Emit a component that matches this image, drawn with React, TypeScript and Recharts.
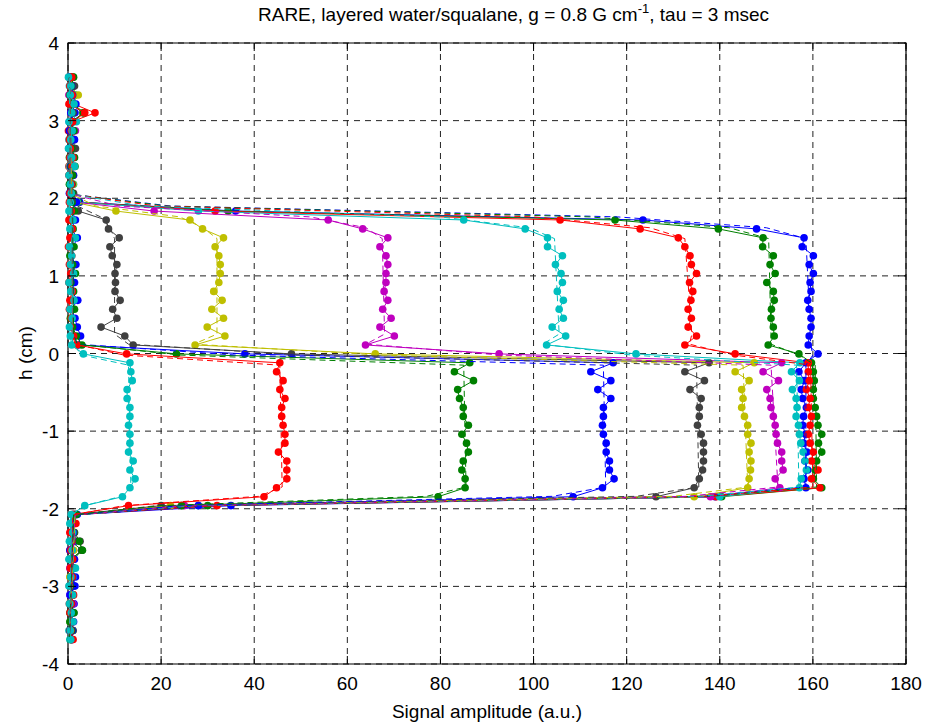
import { ScatterChart, Scatter, XAxis, YAxis, CartesianGrid, ReferenceArea } from 'recharts';

// sample positions along the tube (cm), shared by all measured profiles
const hGrid = [
  3.56, 3.445, 3.33, 3.215, 3.1, 2.985, 2.87, 2.755, 2.64, 2.525,
  2.41, 2.295, 2.18, 2.065, 1.95, 1.835, 1.72, 1.605, 1.49, 1.375,
  1.26, 1.145, 1.03, 0.915, 0.8, 0.685, 0.57, 0.455, 0.34, 0.225,
  0.11, -0.005, -0.12, -0.235, -0.35, -0.465, -0.58, -0.695, -0.81, -0.925,
  -1.04, -1.155, -1.27, -1.385, -1.5, -1.615, -1.73, -1.845, -1.96, -2.075,
  -2.19, -2.305, -2.42, -2.535, -2.65, -2.765, -2.88, -2.995, -3.11, -3.225,
  -3.34, -3.455, -3.57, -3.685,
];

// model (dashed) curves are given at these heights
const modelH = [3.55, 2.05, 1.9, 1.76, 1.62, 1.48, 0.25, 0.12, -0.02, -0.15, -1.72, -1.84, -1.96, -2.08, -3.65];

// measured amplitudes, one per hGrid entry
const blue1X = [
  0.4, 1.2, 0.6, 0.9, 1.5, 0.3, 1.1, 0.7, 0.2, 1.3, 0.8, 0.5, 1.0, 0.6,
  2.5, 36.0, 123.5, 147.9, 158.1, 157.7, 160.1, 159.2, 160.1, 159.4, 159.6, 158.9, 159.2, 159.6, 159.6, 159.2, 159.0, 161.1,
  158.5, 157.0, 158.2, 157.5, 157.8, 158.6, 158.0, 157.8, 158.4, 158.0, 158.7, 158.3, 158.9, 158.1, 158.5,
  139.0, 35.0,
  2.0, 1.2, 0.8, 1.5, 0.6, 1.1, 0.9, 1.6, 1.0, 0.4, 1.3, 0.7, 1.2, 0.9, 0.6,
];
const green1X = [
  1.0, 0.5, 1.4, 0.7, 3.2, 1.1, 0.4, 1.2, 0.9, 0.3, 1.5, 0.6, 0.8, 0.4,
  2.2, 34.4, 117.5, 139.7, 149.3, 149.2, 151.5, 150.8, 151.9, 150.1, 151.5, 151.7, 151.1, 151.0, 151.5, 151.7, 150.4, 157.0,
  159.7, 160.1, 160.3, 160.1, 160.1, 160.5, 160.8, 161.1, 161.9, 161.2, 161.9, 160.8, 160.5, 160.1, 161.9,
  140.4, 30.0,
  1.6, 1.0, 1.4, 0.7, 3.0, 1.2, 0.5, 0.9, 1.3, 0.6, 1.0, 0.4, 0.8, 1.1, 0.5,
];
const red1X = [
  0.2, 0.9, 0.3, 1.2, 5.8, 0.8, 0.1, 0.6, 1.0, 0.4, 0.2, 1.1, 0.5, 0.7,
  1.8, 31.6, 105.7, 122.9, 131.1, 132.5, 133.6, 133.9, 135.0, 133.5, 134.2, 133.8, 133.2, 133.9, 133.2, 135.0, 132.5, 143.3,
  159.0, 159.0, 159.2, 158.6, 159.4, 159.0, 159.7, 159.4, 159.0, 159.4, 160.1, 159.7, 161.1, 159.7, 161.5,
  139.2, 32.0,
  1.3, 1.7, 0.6, 1.0, 0.4, 0.9, 1.2, 0.5, 0.8, 1.1, 0.3, 0.9, 0.6, 1.0, 0.8,
];
const cyan1X = [
  0.7, 0.3, 1.6, 0.5, 0.9, 1.8, 0.4, 0.2, 1.4, 0.6, 0.3, 0.9, 1.2, 0.5,
  2.0, 28.0, 85.0, 98.2, 103.0, 103.0, 106.2, 104.7, 105.9, 106.2, 105.1, 106.4, 105.5, 106.4, 104.0, 106.9, 102.8, 122.0,
  157.2, 155.4, 157.1, 155.6, 156.4, 156.6, 156.4, 156.9, 157.1, 157.4, 157.9, 158.3, 158.6, 157.5, 157.1,
  140.0, 28.0,
  1.0, 0.5, 0.9, 0.3, 0.8, 0.2, 0.6, 1.1, 0.4, 0.7, 0.3, 0.9, 0.5, 0.2, 0.4,
];
const magenta1X = [
  0.5, 1.1, 0.2, 0.8, 0.6, 0.4, 1.6, 0.9, 0.3, 0.7, 1.2, 0.4, 0.6, 0.9,
  1.5, 18.5, 55.9, 63.3, 68.7, 67.0, 68.3, 68.7, 68.3, 68.3, 67.9, 68.7, 67.6, 69.4, 67.0, 70.1, 63.9, 92.6,
  153.3, 149.3, 152.6, 150.1, 150.8, 151.0, 151.5, 151.9, 152.1, 152.4, 153.3, 153.3, 153.6, 151.9, 152.9,
  138.0, 25.0,
  1.2, 0.8, 0.5, 1.1, 0.6, 0.9, 0.4, 1.0, 0.7, 0.5, 1.1, 0.6, 0.8, 0.4, 0.9,
];
const yellow1X = [
  0.9, 0.6, 2.2, 1.0, 0.7, 0.5, 0.8, 1.3, 0.6, 0.9, 0.4, 0.7, 1.1, 0.8,
  1.2, 10.3, 26.2, 28.9, 33.4, 31.6, 32.4, 32.7, 32.7, 32.4, 31.3, 33.1, 30.9, 33.4, 29.9, 33.7, 27.3, 66.0,
  147.4, 143.3, 146.3, 144.7, 145.0, 144.7, 145.3, 146.0, 146.0, 146.7, 146.3, 146.7, 146.6, 146.3, 146.0,
  134.5, 22.0,
  1.4, 0.9, 0.6, 0.8, 1.2, 0.5, 0.9, 0.4, 1.0, 0.7, 0.6, 0.8, 0.5, 0.9, 0.7,
];
const gray1X = [
  0.6, 1.4, 0.8, 0.4, 1.1, 0.9, 0.5, 1.0, 1.6, 0.8, 0.6, 0.3, 0.9, 1.2,
  0.8, 2.2, 8.2, 8.7, 11.0, 9.0, 9.5, 10.5, 10.1, 10.2, 10.1, 11.2, 9.6, 10.5, 7.1, 12.2, 14.0, 48.0,
  137.7, 132.5, 136.7, 133.6, 136.0, 135.6, 135.6, 135.2, 136.0, 136.5, 136.5, 136.5, 136.3, 135.6, 134.5,
  126.3, 20.0,
  1.1, 0.7, 1.3, 2.6, 2.9, 0.8, 1.0, 0.6, 1.2, 0.9, 0.5, 1.0, 0.7, 0.4, 0.8,
];
const blue2X = [
  0.3, 0.8, 1.0, 1.7, 0.6, 0.9, 0.3, 1.4, 0.7, 1.0, 0.5, 1.2, 0.4, 0.3,
  1.8, 0.9, 1.6, 0.7, 2.0, 1.1, 0.6, 1.7, 0.9, 1.4, 0.8, 2.1, 0.7, 1.5, 2.0, 2.7, 2.2, 38.0,
  117.1, 112.3, 116.6, 113.8, 116.6, 115.0, 115.0, 114.8, 115.0, 115.6, 115.6, 116.3, 116.3, 117.3, 114.8,
  108.5, 28.0,
  1.5, 0.6, 1.1, 0.9, 0.4, 1.4, 0.7, 1.0, 1.5, 0.5, 0.8, 1.2, 0.6, 1.0, 0.9,
];
const green2X = [
  1.2, 0.7, 0.4, 1.1, 3.5, 0.6, 1.3, 0.5, 0.8, 1.4, 0.7, 1.0, 0.3, 0.9,
  0.9, 1.4, 0.5, 1.1, 0.8, 1.3, 0.4, 1.0, 1.6, 0.6, 1.2, 0.9, 1.4, 0.5, 1.0, 1.8, 3.0, 23.3,
  86.3, 83.0, 87.1, 83.7, 84.1, 84.9, 84.9, 86.0, 84.6, 85.6, 86.0, 84.9, 84.6, 85.3, 85.3,
  79.5, 24.4,
  1.8, 1.1, 0.8, 2.4, 3.1, 0.6, 1.2, 0.9, 0.5, 1.0, 0.7, 1.3, 0.4, 0.8, 0.6,
];
const red2X = [
  0.8, 0.4, 0.9, 0.2, 3.6, 1.0, 0.7, 0.3, 0.5, 1.1, 0.9, 0.2, 0.7, 0.4,
  0.3, 0.7, 0.2, 0.9, 0.4, 0.1, 0.8, 0.3, 0.6, 0.2, 0.9, 0.4, 0.3, 0.7, 0.5, 1.2, 1.9, 12.6,
  45.5, 44.8, 46.2, 45.5, 46.6, 45.9, 45.9, 46.2, 46.6, 46.6, 45.2, 47.0, 47.0, 47.0, 44.8,
  42.1, 13.0,
  0.9, 1.5, 0.4, 0.8, 0.6, 1.0, 0.5, 0.9, 0.3, 1.2, 0.7, 0.4, 1.0, 0.6, 1.1,
];
const cyan2X = [
  0.1, 0.6, 0.5, 1.3, 0.8, 0.2, 0.9, 0.6, 0.1, 0.8, 1.4, 0.2, 0.5, 0.7,
  0.5, 0.2, 1.1, 0.4, 1.6, 0.3, 0.8, 0.5, 1.2, 0.2, 0.6, 1.3, 0.4, 0.9, 0.3, 0.5, 0.8, 3.3,
  13.3, 13.5, 13.8, 12.7, 12.7, 13.3, 13.3, 13.0, 13.3, 13.3, 13.0, 14.0, 13.3, 14.4, 13.3,
  11.7, 3.6,
  0.7, 0.4, 1.0, 0.5, 0.9, 0.3, 1.6, 0.6, 0.2, 1.0, 0.4, 0.7, 1.1, 0.5, 0.6,
];

// model curves, one per modelH entry
const blue1Model = [0.3, 0.8, 22, 118, 150, 158.5, 159.5, 159.5, 160, 158.5, 158.5, 136, 30, 1.5, 0.3];
const green1Model = [0.3, 0.8, 21, 112, 142, 150.5, 151, 151, 157, 160.5, 160.8, 138, 28, 1.5, 0.3];
const red1Model = [0.3, 0.8, 19, 100, 125, 132.5, 134, 133.5, 143, 159.5, 160, 137, 28, 1.5, 0.3];
const cyan1Model = [0.3, 0.8, 16, 80, 99, 104.5, 105.5, 102, 121, 156.5, 157, 136, 27, 1.5, 0.3];
const magenta1Model = [0.3, 0.8, 11, 52, 64, 67.5, 68, 64, 93, 151, 152.5, 133, 25, 1.5, 0.3];
const yellow1Model = [0.3, 0.8, 6, 24, 29, 32, 32, 27, 67, 145, 146, 130, 22, 1.5, 0.3];
const gray1Model = [0.3, 0.6, 2, 7, 9, 10, 10, 13, 50, 135, 135.5, 122, 19, 1.2, 0.3];
const blue2Model = [0.3, 0.5, 1, 1, 1, 1, 1.2, 2, 36, 115, 115.5, 104, 24, 1.2, 0.3];
const green2Model = [0.3, 0.5, 1, 1, 1, 1, 1.2, 2, 24, 85, 85.5, 77, 20, 1.2, 0.3];
const red2Model = [0.3, 0.5, 0.8, 0.8, 0.8, 0.8, 1, 1.5, 12, 45.5, 46, 41, 12, 1, 0.3];
const cyan2Model = [0.3, 0.5, 0.8, 0.8, 0.8, 0.8, 0.9, 1, 3, 13, 13.5, 11.5, 3.5, 0.8, 0.3];

const xTicks = [0, 20, 40, 60, 80, 100, 120, 140, 160, 180];
const yTicks = [-4, -3, -2, -1, 0, 1, 2, 3, 4];

// MATLAB default line colours
const B = '#0000ff';
const G = '#008000';
const R = '#ff0000';
const C = '#00bfbf';
const M = '#bf00bf';
const Y = '#bfbf00';
const K = '#404040';

const profiles = [
  { id: 'b1', color: B, xs: blue1X, model: blue1Model },
  { id: 'g1', color: G, xs: green1X, model: green1Model },
  { id: 'r1', color: R, xs: red1X, model: red1Model },
  { id: 'c1', color: C, xs: cyan1X, model: cyan1Model },
  { id: 'm1', color: M, xs: magenta1X, model: magenta1Model },
  { id: 'y1', color: Y, xs: yellow1X, model: yellow1Model },
  { id: 'k1', color: K, xs: gray1X, model: gray1Model },
  { id: 'b2', color: B, xs: blue2X, model: blue2Model },
  { id: 'g2', color: G, xs: green2X, model: green2Model },
  { id: 'r2', color: R, xs: red2X, model: red2Model },
  { id: 'c2', color: C, xs: cyan2X, model: cyan2Model },
];

const W = 927;
const H = 723;
const PLOT_W = 838;
const PLOT_H = 621;
const FONT = '"Liberation Sans", Arial, Helvetica, sans-serif';
const FS = 19;
const TICK_GAP = 8;

const XTick = (props: any) => {
  const { x, y, payload } = props;
  const ay = y - TICK_GAP;
  return (
    <g>
      <line x1={x} y1={ay} x2={x} y2={ay - 8} stroke="#000" />
      <line x1={x} y1={ay - PLOT_H} x2={x} y2={ay - PLOT_H + 8} stroke="#000" />
      <text x={x} y={y + 18} textAnchor="middle" fontSize={FS} fontFamily={FONT} fill="#000">
        {payload.value}
      </text>
    </g>
  );
};

const YTick = (props: any) => {
  const { x, y, payload } = props;
  const ax = x + TICK_GAP;
  return (
    <g>
      <line x1={ax} y1={y} x2={ax + 8} y2={y} stroke="#000" />
      <line x1={ax + PLOT_W} y1={y} x2={ax + PLOT_W - 8} y2={y} stroke="#000" />
      <text x={x - 1} y={y + 7} textAnchor="end" fontSize={FS} fontFamily={FONT} fill="#000">
        {payload.value}
      </text>
    </g>
  );
};

const dot = (color: string) => (p: any) => <circle cx={p.cx} cy={p.cy} r={3.8} fill={color} />;
const noDot = () => <g />;

export default function App() {
  return (
    <div style={{ position: 'absolute', left: 0, top: 0, width: W, height: H, background: '#fff' }}>
      <ScatterChart width={W} height={H} margin={{ top: 43, right: 21, bottom: 0, left: 0 }}>
        <CartesianGrid stroke="#222" strokeDasharray="6 5" strokeWidth={1} />
        <XAxis
          type="number"
          dataKey="x"
          domain={[0, 180]}
          ticks={xTicks}
          height={59}
          axisLine={false}
          tickLine={false}
          tickSize={0}
          tickMargin={TICK_GAP}
          tick={<XTick />}
        />
        <YAxis
          type="number"
          dataKey="h"
          domain={[-4, 4]}
          ticks={yTicks}
          width={68}
          axisLine={false}
          tickLine={false}
          tickSize={0}
          tickMargin={TICK_GAP}
          tick={<YTick />}
        />
        {profiles.map((p) => (
          <Scatter
            key={p.id + '-data'}
            data={p.xs.map((x, i) => ({ x, h: hGrid[i] }))}
            line={{ stroke: p.color, strokeWidth: 1 }}
            lineJointType="linear"
            shape={dot(p.color)}
            isAnimationActive={false}
          />
        ))}
        {profiles.map((p) => (
          <Scatter
            key={p.id + '-model'}
            data={p.model.map((x, i) => ({ x, h: modelH[i] }))}
            line={{ stroke: p.color, strokeWidth: 1, strokeDasharray: '6 4' }}
            lineJointType="linear"
            shape={noDot}
            isAnimationActive={false}
          />
        ))}
        <ReferenceArea x1={0} x2={180} y1={-4} y2={4} fill="none" stroke="#000" strokeWidth={1.2} ifOverflow="visible" />
      </ScatterChart>
      <svg width={W} height={H} style={{ position: 'absolute', left: 0, top: 0, pointerEvents: 'none' }}>
        <text x={258} y={21} fontSize={FS} fontFamily={FONT} fill="#000">
          RARE, layered water/squalane, g = 0.8 G cm
          <tspan fontSize={13} dy={-8}>-1</tspan>
          <tspan dy={8}>, tau = 3 msec</tspan>
        </text>
        <text x={487} y={718} textAnchor="middle" fontSize={FS} fontFamily={FONT} fill="#000">
          Signal amplitude (a.u.)
        </text>
        <text x={32} y={353} textAnchor="middle" fontSize={FS} fontFamily={FONT} fill="#000" transform="rotate(-90 32 353)">
          h (cm)
        </text>
      </svg>
    </div>
  );
}
